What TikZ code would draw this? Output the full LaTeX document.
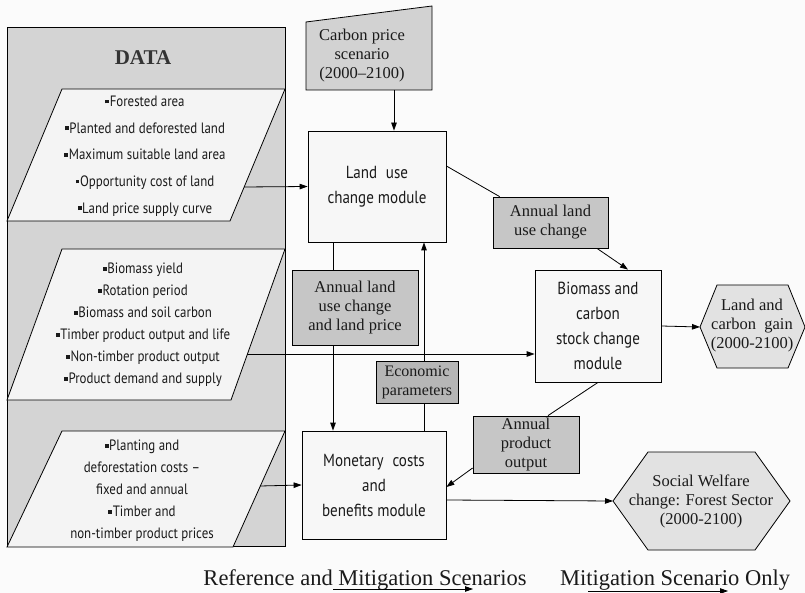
\documentclass[tikz,border=0pt]{standalone}
\usepackage{fontspec}
\setmainfont{Liberation Serif}
\newfontfamily\cond[FakeStretch=0.86]{PT Sans}
\usetikzlibrary{arrows.meta}
\definecolor{bgc}{HTML}{FBFBFB}
\definecolor{panel}{HTML}{D4D4D4}
\definecolor{parfill}{HTML}{F4F4F4}
\definecolor{carbfill}{HTML}{D2D2D2}
\definecolor{midgray}{HTML}{C6C6C6}
\definecolor{econgray}{HTML}{B6B6B6}
\definecolor{modfill}{HTML}{F7F7F7}
\definecolor{hexfill}{HTML}{E2E2E2}
\definecolor{txt}{HTML}{1A1A1A}
\newcommand\bul{\rule[3pt]{3.8pt}{3.8pt}\hspace{0.6pt}}
\begin{document}
\begin{tikzpicture}[x=1pt,y=-1pt,
  module/.style={draw, fill=modfill, line width=0.8pt, align=center, inner sep=0pt, text=txt,
    font=\cond\fontsize{17.5}{25}\selectfont},
  graybox/.style={draw, fill=midgray, line width=0.8pt, align=center, inner sep=0pt, text=txt,
    font=\fontsize{16.5}{19}\selectfont},
  serif/.style={align=center, inner sep=0pt, text=txt, font=\fontsize{16.5}{19}\selectfont},
  bullets/.style={align=center, inner sep=0pt, text=txt},
  shapeline/.style={draw, line width=0.8pt},
  arr/.style={-{Triangle[length=8pt,width=5.5pt]}, line width=0.8pt},
  conn/.style={line width=0.8pt}]
\useasboundingbox[fill=bgc] (0,0) rectangle (805,593);

% DATA panel
\filldraw[fill=panel, shapeline] (7,27) rectangle (285,546);
\node[font=\bfseries\fontsize{21}{22}\selectfont, text=black!80] (data) at (143,58) {DATA};

% parallelograms
\filldraw[fill=parfill, shapeline] (62,89) -- (285,89) -- (230,221) -- (7,221) -- cycle;
\filldraw[fill=parfill, shapeline] (62,249) -- (285,249) -- (231,400) -- (7,400) -- cycle;
\filldraw[fill=parfill, shapeline] (62,431) -- (285,431) -- (233,547) -- (7,547) -- cycle;
\coordinate (p1out) at (244,187);
\coordinate (p2out) at (247,354);
\coordinate (p3out) at (260,486);

\node[bullets, font=\cond\fontsize{15}{26.7}\selectfont] (p1) at (145,156)
  {\bul Forested area\\ \bul Planted and deforested land\\ \bul Maximum suitable land area\\
   \bul Opportunity cost of land\\ \bul Land price supply curve};
\node[bullets, font=\cond\fontsize{15}{22}\selectfont] (p2) at (143,325)
  {\bul Biomass yield\\ \bul Rotation period\\ \bul Biomass and soil carbon\\
   \bul Timber product output and life\\ \bul Non-timber product output\\ \bul Product demand and supply};
\node[bullets, font=\cond\fontsize{15}{22}\selectfont] (p3) at (142,491)
  {\bul Planting and\\ deforestation costs –\\ fixed and annual\\ \bul Timber and\\ non-timber product prices};

% carbon price scenario
\filldraw[fill=carbfill, shapeline] (306,22) -- (432,6) -- (432,90) -- (306,90) -- cycle;
\node[serif] (carbon) at (362,56) {Carbon price\\ scenario\\ (2000–2100)};
\coordinate (carbonb) at (394,90);

% modules
\node[module, minimum width=138pt, minimum height=111pt] (land) at (377,186.5)
  {Land\enspace use\\ change module};
\node[module, minimum width=144pt, minimum height=108pt] (mon) at (374,485)
  {Monetary\enspace costs\\ and\\ benefits module};
\node[module, minimum width=126pt, minimum height=112pt] (bio) at (598,326)
  {Biomass and\\ carbon\\ stock change\\ module};

% gray boxes
\node[graybox, minimum width=126pt, minimum height=75pt] (apl) at (355,307.5)
  {Annual land\\ use change\\ and land price};
\node[graybox, minimum width=115pt, minimum height=51pt] (alu) at (550.5,222.5)
  {Annual land\\ use change};
\node[graybox, minimum width=106pt, minimum height=57pt] (apo) at (526,444.5)
  {Annual\\ product\\ output};

% hexagons
\filldraw[fill=hexfill, shapeline] (700,327) -- (717,285) -- (788,285) -- (805,327) -- (788,368) -- (717,368) -- cycle;
\coordinate (lcgin) at (700,327);
\node[serif] (lcg) at (752,326) {Land and\\ carbon\enspace gain\\ (2000-2100)};
\filldraw[fill=hexfill, shapeline] (613,501) -- (648,452) -- (755,452) -- (790,501) -- (755,550) -- (648,550) -- cycle;
\coordinate (swcin) at (613,501);
\node[serif] (swc) at (701,501) {Social Welfare\\ change: Forest Sector\\ (2000-2100)};

% connectors
\draw[arr] (carbonb) -- ([xshift=17pt]land.north);
\draw[arr] (p1out) -- (land.west);
\draw[arr] (p2out) -- ([yshift=-28pt]bio.west);
\draw[arr] (p3out) -- (mon.west);
\draw[conn] ([xshift=-44pt]land.south) -- ([xshift=-22pt]apl.north);
\draw[arr] ([xshift=-22pt]apl.south) -- ([xshift=-41pt]mon.north);
\draw[arr] ([xshift=50pt]mon.north) -- ([xshift=47pt]land.south);
\draw[conn] ([yshift=20.5pt]land.east) -- ([xshift=7pt]alu.north west);
\draw[arr] ([xshift=46.5pt]alu.south) -- ([xshift=30pt]bio.north);
\draw[arr] (bio.east) -- (lcgin);
\draw[conn] (bio.south) -- ([xshift=22pt]apo.north);
\draw[arr] ([yshift=-23.5pt]apo.west) -- ([yshift=-2pt]mon.east);
\draw[arr] ([yshift=-15pt]mon.east) -- (swcin);

% economic parameters (on top of the vertical connector)
\node[draw, fill=econgray, line width=0.8pt, align=center, inner sep=0pt, text=txt,
  font=\fontsize{16}{19}\selectfont, minimum width=82pt, minimum height=42pt] (econ) at (417,382)
  {Economic\\ parameters};

% legend
\node[serif, font=\fontsize{22.5}{24}\selectfont, anchor=base] (reft) at (365,585) {Reference and Mitigation Scenarios};
\node[serif, font=\fontsize{22.5}{24}\selectfont, anchor=base] (mitt) at (675,585) {Mitigation Scenario Only};
\coordinate (u1a) at (333,589); \coordinate (u1b) at (473,589);
\coordinate (u2a) at (588,591); \coordinate (u2b) at (728,591);
\draw[arr] (u1a) -- (u1b);
\draw[arr] (u2a) -- (u2b);
\end{tikzpicture}
\end{document}
